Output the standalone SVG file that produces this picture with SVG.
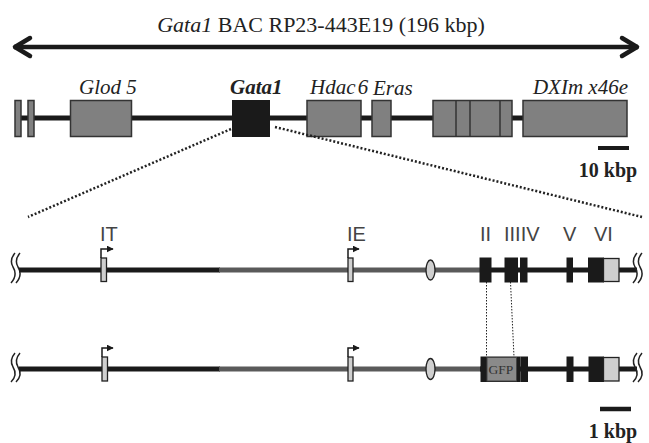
<svg xmlns="http://www.w3.org/2000/svg" width="649" height="443" viewBox="0 0 649 443">
<style>
.gene{fill:#808080;stroke:#333;stroke-width:1.5}
.blk{fill:#1a1a1a;stroke:#1a1a1a;stroke-width:1}
.lt{fill:#cfcfcf;stroke:#222;stroke-width:1.3}
.ser{font-family:"Liberation Serif",serif;fill:#222}
.it{font-style:italic}
.sans{font-family:"Liberation Sans Narrow","Liberation Sans",Arial,sans-serif;fill:#444;font-size:20px}
.bb{stroke:#1a1a1a;stroke-width:5;fill:none}
.gb{stroke:#5a5a5a;stroke-width:5;fill:none}
.dot{stroke:#222;stroke-width:2.5;stroke-dasharray:2 2;fill:none}
.vdot{stroke:#222;stroke-width:1;stroke-dasharray:1.5 1.5;fill:none}
.brk{stroke:#222;stroke-width:1.5;fill:none}
.prom{stroke:#1a1a1a;stroke-width:1.5;fill:none}
</style>
<defs>
<marker id="ah" viewBox="0 0 10 10" refX="9" refY="5" markerWidth="7" markerHeight="7" markerUnits="userSpaceOnUse" orient="auto"><path d="M0,0 L10,5 L0,10 z" fill="#1a1a1a"/></marker>
</defs>
<g id="title">
<text class="ser" x="321" y="32" font-size="22" text-anchor="middle"><tspan class="it">Gata1</tspan> BAC RP23-443E19 (196 kbp)</text>
<path d="M14,47 L638,47" stroke="#1a1a1a" stroke-width="4.5" fill="none"/>
<path d="M30,38 L15,47 L30,56" stroke="#1a1a1a" stroke-width="4.5" fill="none" stroke-linecap="round" stroke-linejoin="round"/>
<path d="M622,38 L637,47 L622,56" stroke="#1a1a1a" stroke-width="4.5" fill="none" stroke-linecap="round" stroke-linejoin="round"/>
</g>
<g id="bac">
<line x1="18" y1="118" x2="626" y2="118" class="bb"/>
<rect class="gene" x="15" y="100.5" width="6" height="36"/>
<rect class="gene" x="28" y="100.5" width="6" height="36"/>
<rect class="gene" x="70.5" y="100.5" width="61" height="36"/>
<rect class="blk" x="232.5" y="100.5" width="37" height="36"/>
<rect class="gene" x="307" y="100.5" width="54" height="36"/>
<rect class="gene" x="372" y="100.5" width="19" height="36"/>
<rect class="gene" x="433" y="100.5" width="79" height="36"/>
<line x1="456" y1="100.5" x2="456" y2="136.5" stroke="#333" stroke-width="1.5"/>
<line x1="470" y1="100.5" x2="470" y2="136.5" stroke="#333" stroke-width="1.5"/>
<line x1="500" y1="100.5" x2="500" y2="136.5" stroke="#333" stroke-width="1.5"/>
<rect class="gene" x="523" y="100.5" width="104" height="36"/>
<text class="ser it" x="79" y="94" font-size="21">Glod 5</text>
<text class="ser it" x="230" y="94" font-size="21" font-weight="bold">Gata1</text>
<text class="ser it" x="310" y="94" font-size="21" word-spacing="-3">Hdac 6</text>
<text class="ser it" x="373" y="95" font-size="21">Eras</text>
<text class="ser it" x="628" y="94" font-size="21" text-anchor="end">DXIm x46e</text>
<line x1="598" y1="148" x2="629" y2="148" stroke="#1a1a1a" stroke-width="4"/>
<text class="ser" x="608" y="177" font-size="20" font-weight="bold" text-anchor="middle">10 kbp</text>
</g>
<g id="connectors">
<line class="dot" x1="231" y1="129" x2="28" y2="217"/>
<line class="dot" x1="275" y1="127" x2="642" y2="217"/>
<line class="vdot" x1="486.5" y1="282" x2="486.5" y2="357"/>
<line class="vdot" x1="510.5" y1="282" x2="514" y2="357"/>
</g>
<g id="row1">
<path class="brk" d="M15,253 Q9,260 13,267 Q18,275 11,283"/>
<path class="brk" d="M20,253 Q14,260 18,267 Q23,275 16,283"/>
<line class="bb" x1="19" y1="270" x2="220" y2="270"/>
<line class="gb" x1="219" y1="270" x2="481" y2="270"/>
<line class="bb" x1="480" y1="270" x2="637" y2="270"/>
<path class="brk" d="M637,253 Q631,260 635,267 Q640,275 633,283"/>
<path class="brk" d="M642,253 Q636,260 640,267 Q645,275 638,283"/>
<rect class="lt" x="101" y="258" width="5.5" height="23.5"/>
<path class="prom" d="M101,258 L101,249 L113,249" marker-end="url(#ah)"/>
<text class="sans" x="100" y="241">IT</text>
<rect class="lt" x="348" y="258" width="5" height="23.5"/>
<path class="prom" d="M348,258 L348,249 L359,249" marker-end="url(#ah)"/>
<text class="sans" x="347" y="241">IE</text>
<ellipse class="lt" cx="430.5" cy="270" rx="4.5" ry="10"/>
<rect class="blk" x="480" y="258" width="11" height="24"/>
<rect class="blk" x="505" y="258" width="12.5" height="24"/>
<rect class="blk" x="520.5" y="258" width="6.5" height="24"/>
<rect class="blk" x="567" y="258" width="5.5" height="24"/>
<rect class="blk" x="588.5" y="258" width="15" height="24"/>
<rect class="lt" x="603.5" y="258.5" width="15.5" height="23"/>
<text class="sans" x="480" y="241">II</text>
<text class="sans" x="504" y="241">IIIIV</text>
<text class="sans" x="563" y="241">V</text>
<text class="sans" x="594" y="241">VI</text>
</g>
<g id="row2">
<path class="brk" d="M15,353 Q9,360 13,367 Q18,375 11,382"/>
<path class="brk" d="M20,353 Q14,360 18,367 Q23,375 16,382"/>
<line class="bb" x1="19" y1="369" x2="220" y2="369"/>
<line class="gb" x1="219" y1="369" x2="481" y2="369"/>
<line class="bb" x1="480" y1="369" x2="637" y2="369"/>
<path class="brk" d="M637,353 Q631,360 635,367 Q640,375 633,382"/>
<path class="brk" d="M642,353 Q636,360 640,367 Q645,375 638,382"/>
<rect class="lt" x="102" y="357" width="5.5" height="24"/>
<path class="prom" d="M102,357 L102,348 L113,348" marker-end="url(#ah)"/>
<rect class="lt" x="348" y="357" width="5" height="24"/>
<path class="prom" d="M348,357 L348,348 L359,348" marker-end="url(#ah)"/>
<ellipse class="lt" cx="430.5" cy="369" rx="4.5" ry="10.5"/>
<rect class="blk" x="481" y="357" width="39" height="24.5"/>
<rect x="487" y="357.5" width="29.5" height="23.5" fill="#8a8a8a" stroke="#444" stroke-width="1"/>
<text x="501" y="374" font-family="Liberation Serif,serif" font-size="13.5" fill="#333" text-anchor="middle">GFP</text>
<rect class="blk" x="521" y="357" width="6.5" height="24.5"/>
<rect class="blk" x="567" y="357" width="6" height="24.5"/>
<rect class="blk" x="589" y="357" width="14.5" height="24.5"/>
<rect class="lt" x="603.5" y="357.5" width="15.5" height="23.5"/>
<line x1="600" y1="409" x2="631" y2="409" stroke="#1a1a1a" stroke-width="4.5"/>
<text class="ser" x="613" y="438" font-size="20" font-weight="bold" text-anchor="middle">1 kbp</text>
</g>
</svg>
